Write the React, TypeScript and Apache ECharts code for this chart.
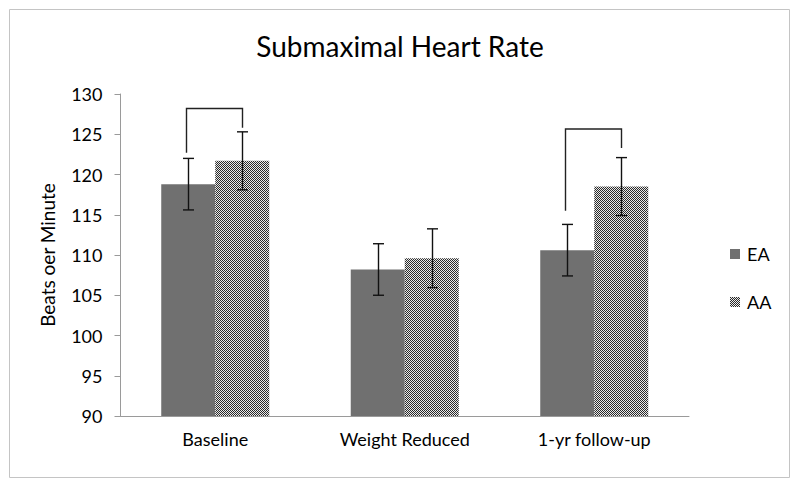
import React, { useEffect, useRef } from "react";
import * as echarts from "echarts";

const categories = ["Baseline", "Weight Reduced", "1-yr follow-up"];
const eaMeans = [118.8, 108.2, 110.6];
const aaMeans = [121.7, 109.6, 118.5];
const eaErr = [3.2, 3.2, 3.2];
const aaErr = [3.6, 3.65, 3.6];
// [categoryIndex, topOfBracket, leftLegEnd, rightLegEnd]
const brackets = [
  [0, 128.2, 122.7, 125.8],
  [2, 125.65, 115.5, 123.3],
];
const yTicks = { min: 90, max: 130, interval: 5 };

const FONT = "Lato";

function makePattern(): HTMLCanvasElement {
  const c = document.createElement("canvas");
  c.width = 2;
  c.height = 2;
  const ctx = c.getContext("2d")!;
  ctx.fillStyle = "#eaeaea";
  ctx.fillRect(0, 0, 2, 2);
  ctx.fillStyle = "#2a2a2a";
  ctx.fillRect(0, 0, 1, 1);
  ctx.fillRect(1, 1, 1, 1);
  return c;
}

export default function App() {
  const ref = useRef<HTMLDivElement>(null);
  useEffect(() => {
    if (!ref.current) return;
    const chart = echarts.init(ref.current, undefined, { renderer: "svg" });
    const pattern: any = { image: makePattern(), repeat: "repeat", imageWidth: 2, imageHeight: 2 };
    const GAP = 0.43;

    const errData: number[][] = [];
    eaMeans.forEach((m, i) => errData.push([i, m - eaErr[i], m + eaErr[i], -1]));
    aaMeans.forEach((m, i) => errData.push([i, m - aaErr[i], m + aaErr[i], 1]));

    const errRender = (params: any, api: any) => {
      const cat = api.value(0);
      const lo = api.value(1);
      const hi = api.value(2);
      const side = api.value(3);
      const band = api.size([1, 0])[0];
      const off = (side * band * (1 - GAP)) / 4;
      const pLo = api.coord([cat, lo]);
      const pHi = api.coord([cat, hi]);
      const x = Math.round(pLo[0] + off) + 0.5;
      const cap = 5.5;
      const style = { stroke: "#111", lineWidth: 1.4 };
      return {
        type: "group",
        children: [
          { type: "line", shape: { x1: x, y1: pLo[1], x2: x, y2: pHi[1] }, style },
          { type: "line", shape: { x1: x - cap, y1: pLo[1], x2: x + cap, y2: pLo[1] }, style },
          { type: "line", shape: { x1: x - cap, y1: pHi[1], x2: x + cap, y2: pHi[1] }, style },
        ],
      };
    };

    const brRender = (params: any, api: any) => {
      const cat = api.value(0);
      const top = api.value(1);
      const l = api.value(2);
      const r = api.value(3);
      const band = api.size([1, 0])[0];
      const off = (band * (1 - GAP)) / 4;
      const pTop = api.coord([cat, top]);
      const pL = api.coord([cat, l]);
      const pR = api.coord([cat, r]);
      const xl = Math.round(pTop[0] - off) - 1.5;
      const xr = Math.round(pTop[0] + off) + 0.5;
      return {
        type: "polyline",
        shape: {
          points: [
            [xl, pL[1]],
            [xl, pTop[1]],
            [xr, pTop[1]],
            [xr, pR[1]],
          ],
        },
        style: { stroke: "#222", lineWidth: 1.4, fill: "none" },
      };
    };

    chart.setOption({
      animation: false,
      backgroundColor: "#ffffff",
      textStyle: { fontFamily: FONT },
      title: {
        text: "Submaximal Heart Rate",
        left: "center",
        top: 27,
        textStyle: { fontFamily: FONT, fontSize: 28, fontWeight: "normal", color: "#000" },
      },
      graphic: [
        {
          type: "rect",
          shape: { x: 9.5, y: 9.5, width: 780, height: 468 },
          style: { fill: "none", stroke: "#c4c4c4", lineWidth: 1 },
          z: 100,
        },
      ],
      legend: {
        orient: "vertical",
        left: 725,
        top: 240,
        itemWidth: 10,
        itemHeight: 10,
        itemGap: 30,
        icon: "rect",
        data: ["EA", "AA"],
        textStyle: { fontFamily: FONT, fontSize: 18, color: "#000", padding: [0, 0, 0, 2] },
      },
      grid: { left: 120.5, right: 111, top: 94, bottom: 71, containLabel: false },
      xAxis: {
        type: "category",
        data: categories,
        axisLine: { lineStyle: { color: "#9a9a9a", width: 1 } },
        axisTick: { show: false },
        axisLabel: { color: "#000", fontFamily: FONT, fontSize: 18, margin: 14 },
      },
      yAxis: {
        type: "value",
        min: yTicks.min,
        max: yTicks.max,
        interval: yTicks.interval,
        name: "Beats oer Minute",
        nameLocation: "middle",
        nameGap: 64,
        nameRotate: 90,
        nameTextStyle: { color: "#000", fontFamily: FONT, fontSize: 19 },
        splitLine: { show: false },
        axisLine: { show: true, lineStyle: { color: "#9a9a9a", width: 1 } },
        axisTick: { show: true, length: 6, lineStyle: { color: "#9a9a9a" } },
        axisLabel: { color: "#000", fontFamily: FONT, fontSize: 18, margin: 18 },
      },
      series: [
        {
          name: "EA",
          type: "bar",
          data: eaMeans,
          barGap: "0%",
          barCategoryGap: "43%",
          itemStyle: { color: "#707070" },
        },
        {
          name: "AA",
          type: "bar",
          data: aaMeans,
          barGap: "0%",
          barCategoryGap: "43%",
          itemStyle: { color: pattern },
        },
        {
          name: "err",
          type: "custom",
          renderItem: errRender,
          data: errData,
          encode: { x: 0, y: [1, 2] },
          z: 5,
        },
        {
          name: "brackets",
          type: "custom",
          renderItem: brRender,
          data: brackets,
          encode: { x: 0, y: [1, 2, 3] },
          z: 5,
        },
      ],
    });
    return () => chart.dispose();
  }, []);
  return (
    <div
      ref={ref}
      style={{ position: "fixed", left: 0, top: 0, width: 800, height: 487 }}
    />
  );
}
